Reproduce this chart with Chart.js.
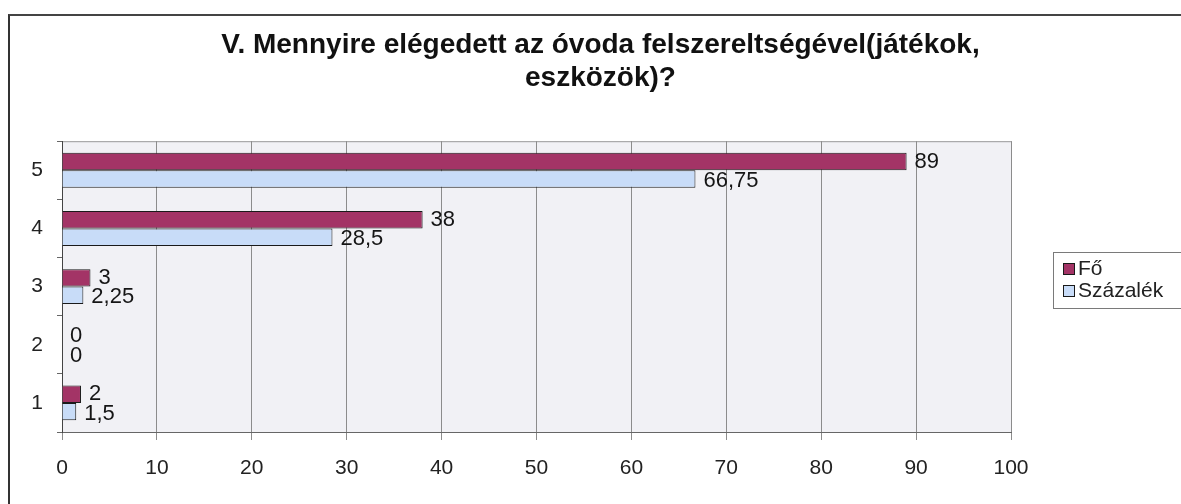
<!DOCTYPE html>
<html>
<head>
<meta charset="utf-8">
<script src="https://cdn.jsdelivr.net/npm/chart.js@4/dist/chart.umd.min.js"></script>
<style>
  html,body{margin:0;padding:0;background:#fff;}
  #wrap{position:relative;width:1181px;height:504px;overflow:hidden;}
  #frame{position:absolute;left:8px;top:14px;width:1300px;height:600px;border-left:2px solid #333;border-top:2px solid #444;box-sizing:border-box;pointer-events:none;}
  canvas{position:absolute;left:0;top:0;}
</style>
</head>
<body>
<div id="wrap">
<canvas id="c" width="1181" height="504"></canvas>
<div id="frame"></div>
</div>
<script>
const titleLines = ['V. Mennyire elégedett az óvoda felszereltségével(játékok,', 'eszközök)?'];
const categories = ['5', '4', '3', '2', '1'];
const foValues = [89, 38, 3, 0, 2];
const szazalekValues = [66.75, 28.5, 2.25, 0, 1.5];
const seriesNames = ['Fő', 'Százalék'];
const xTicks = [0, 10, 20, 30, 40, 50, 60, 70, 80, 90, 100];

const FONT = "'Liberation Sans', Arial, sans-serif";
const FO_COLOR = '#a33466';
const SZ_COLOR = '#c8dcf8';

const plotBg = {
  id: 'plotBg',
  beforeDraw(chart) {
    const {ctx, chartArea: a} = chart;
    ctx.save();
    ctx.fillStyle = '#f1f1f5';
    ctx.fillRect(a.left, a.top, a.right - a.left, a.bottom - a.top);
    ctx.strokeStyle = '#9a9a9a';
    ctx.lineWidth = 1;
    ctx.beginPath();
    ctx.moveTo(a.left, a.top + 0.5);
    ctx.lineTo(a.right + 0.5, a.top + 0.5);
    ctx.lineTo(a.right + 0.5, a.bottom);
    ctx.stroke();
    ctx.restore();
  }
};

const customLegend = {
  id: 'customLegend',
  afterDraw(chart) {
    const ctx = chart.ctx;
    const a = chart.chartArea;
    const boxLeft = a.right + 42;
    const boxTop = 252;
    ctx.save();
    ctx.strokeStyle = '#7a7a7a';
    ctx.lineWidth = 1;
    ctx.strokeRect(boxLeft + 0.5, boxTop + 0.5, 400, 56);
    ctx.font = '21px ' + FONT;
    ctx.textBaseline = 'middle';
    ctx.textAlign = 'left';
    chart.data.datasets.forEach((ds, i) => {
      const cy = 269 + i * 22;
      const mx = boxLeft + 10;
      ctx.fillStyle = ds.backgroundColor;
      ctx.fillRect(mx + 0.5, cy - 5.5, 11, 11);
      ctx.strokeStyle = '#1a1a1a';
      ctx.strokeRect(mx + 0.5, cy - 5.5, 11, 11);
      ctx.fillStyle = '#222';
      ctx.fillText(ds.label, mx + 15, cy);
    });
    ctx.restore();
  }
};

const dataLabels = {
  id: 'dataLabels',
  afterDatasetsDraw(chart) {
    const ctx = chart.ctx;
    ctx.save();
    ctx.font = '22px ' + FONT;
    ctx.fillStyle = '#151515';
    ctx.textAlign = 'left';
    ctx.textBaseline = 'middle';
    chart.data.datasets.forEach((ds, di) => {
      const meta = chart.getDatasetMeta(di);
      meta.data.forEach((bar, i) => {
        const v = ds.data[i];
        const txt = String(v).replace('.', ',');
        ctx.fillText(txt, bar.x + 8, bar.y + (di === 1 ? 2 : 0));
      });
    });
    ctx.restore();
  }
};

new Chart(document.getElementById('c'), {
  type: 'bar',
  data: {
    labels: categories,
    datasets: [
      {label: seriesNames[0], data: foValues, backgroundColor: FO_COLOR, borderColor: '#1a1a1a', borderWidth: 1},
      {label: seriesNames[1], data: szazalekValues, backgroundColor: SZ_COLOR, borderColor: '#1a1a1a', borderWidth: 1}
    ]
  },
  plugins: [plotBg, dataLabels, customLegend],
  options: {
    indexAxis: 'y',
    responsive: false,
    animation: false,
    devicePixelRatio: 1,
    categoryPercentage: 0.6,
    barPercentage: 1.0,
    layout: {padding: {left: 20, right: 0, top: 14, bottom: 0}},
    scales: {
      x: {
        min: 0, max: 100,
        afterBuildTicks(scale) { scale.ticks = xTicks.map(v => ({value: v})); },
        afterFit(scale) { scale.height = 72; },
        grid: {color: '#8c8c8c', lineWidth: 1, tickLength: 8, drawTicks: true},
        border: {color: '#666', width: 1},
        ticks: {font: {size: 21, family: FONT}, color: '#222', padding: 16}
      },
      y: {
        afterFit(scale) { scale.width = 42; },
        grid: {offset: true, drawOnChartArea: false, tickLength: 5, color: '#666'},
        border: {color: '#444', width: 1},
        ticks: {font: {size: 21, family: FONT}, color: '#222', padding: 14}
      },
      yRight: {
        type: 'category',
        position: 'right',
        display: true,
        afterFit(scale) { scale.width = 170; },
        grid: {display: false, drawTicks: false},
        border: {display: false},
        ticks: {display: false}
      }
    },
    plugins: {
      title: {
        display: true,
        text: titleLines,
        font: {size: 28, weight: 'bold', family: FONT},
        color: '#111',
        lineHeight: 1.15,
        padding: {top: 14, bottom: 46}
      },
      legend: {display: false},
      tooltip: {enabled: false}
    }
  }
});
</script>
</body>
</html>
